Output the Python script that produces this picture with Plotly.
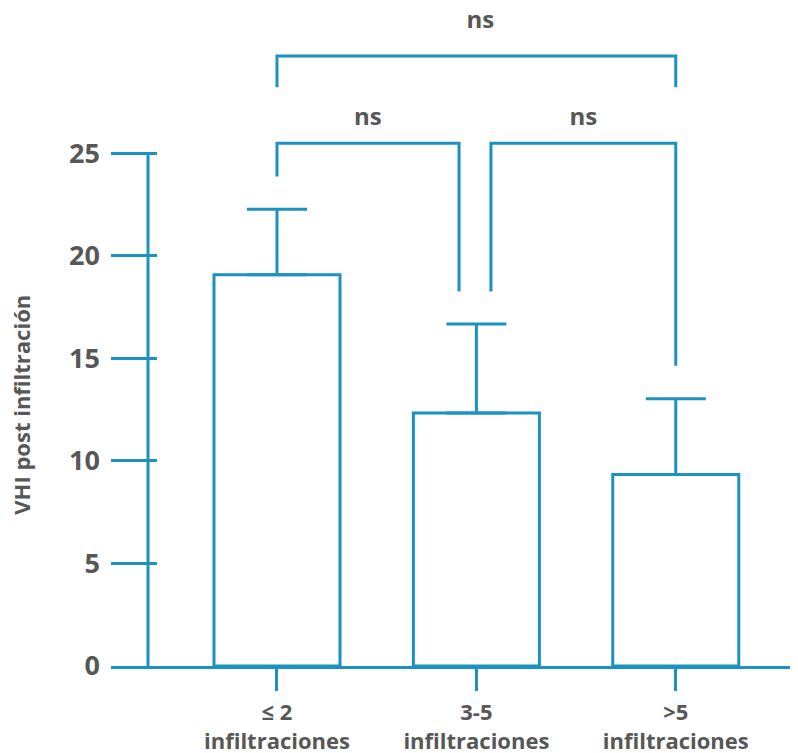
import plotly.graph_objects as go

# ---- data ----
categories = ["≤ 2<br>infiltraciones", "3-5<br>infiltraciones", ">5<br>infiltraciones"]
cat_pos = [0, 1, 2]
means = [19.07, 12.33, 9.33]
err_upper = [3.20, 4.34, 3.70]

y_ticks = [0, 5, 10, 15, 20, 25]

# significance brackets: x-left, x-right, top y, left-leg bottom, right-leg bottom, label
br_x0 = [0.0, 1.073, 0.0]
br_x1 = [0.913, 2.0, 2.0]
br_top = [25.48, 25.48, 29.74]
br_left_bottom = [23.86, 18.26, 28.21]
br_right_bottom = [18.26, 14.64, 28.21]
br_label = ["ns", "ns", "ns"]
br_label_x = [0.456, 1.536, 1.02]
br_label_y = [26.65, 26.65, 31.4]

BLUE = "#1b92bf"
GREY = "#575757"
FONT = "Open Sans"

# page body has an 8px default margin; figure is sized to fit the window
W, H = 790, 745
L, B = 103, 86.5
PLOT_W = W - L
PLOT_H = H - B

fig = go.Figure()

fig.add_trace(go.Bar(
    x=cat_pos, y=means, width=0.632,
    marker=dict(color="white", line=dict(color=BLUE, width=3)),
    error_y=dict(type="data", symmetric=False, array=err_upper,
                 arrayminus=[0] * len(err_upper),
                 color=BLUE, thickness=3, width=30),
    showlegend=False, hoverinfo="skip",
))

for i in range(len(br_x0)):
    fig.add_trace(go.Scatter(
        x=[br_x0[i], br_x0[i], br_x1[i], br_x1[i]],
        y=[br_left_bottom[i], br_top[i], br_top[i], br_right_bottom[i]],
        mode="lines", line=dict(color=BLUE, width=3),
        showlegend=False, hoverinfo="skip",
    ))

fig.add_trace(go.Scatter(
    x=br_label_x, y=br_label_y, text=br_label, mode="text",
    textfont=dict(family=FONT, size=24, color=GREY, weight="bold"),
    showlegend=False, hoverinfo="skip", cliponaxis=False,
))

# y axis line (0 .. 25)
fig.add_shape(type="line", xref="paper", yref="y",
              x0=37 / PLOT_W, x1=37 / PLOT_W,
              y0=min(y_ticks), y1=max(y_ticks),
              line=dict(color=BLUE, width=3), layer="above")

fig.add_annotation(
    text="VHI post infiltración", textangle=-90,
    xref="paper", yref="paper", x=(21 - 111) / PLOT_W, y=(PLOT_H - 397) / PLOT_H,
    xanchor="center", yanchor="middle", showarrow=False,
    font=dict(family=FONT, size=22, color=GREY, weight="bold"),
)

fig.update_layout(
    width=W, height=H,
    margin=dict(l=L, r=0, t=0, b=B, autoexpand=False),
    paper_bgcolor="white", plot_bgcolor="white",
    xaxis=dict(
        range=[-0.8325, 2.613], tickvals=cat_pos, ticktext=categories,
        showline=True, linecolor=BLUE, linewidth=3,
        ticks="outside", ticklen=22, tickwidth=3, tickcolor=BLUE,
        showgrid=False, zeroline=False, ticklabelstandoff=3,
        tickfont=dict(family=FONT, size=22, color=GREY, weight="bold"),
    ),
    yaxis=dict(
        range=[0, PLOT_H / 20.53], tickvals=y_ticks,
        showline=False, ticks="inside", ticklen=46, tickwidth=3, tickcolor=BLUE,
        showgrid=False, zeroline=False, ticklabelstandoff=10,
        tickfont=dict(family=FONT, size=27, color=GREY, weight="bold"),
    ),
)

fig.write_html("out.html")
